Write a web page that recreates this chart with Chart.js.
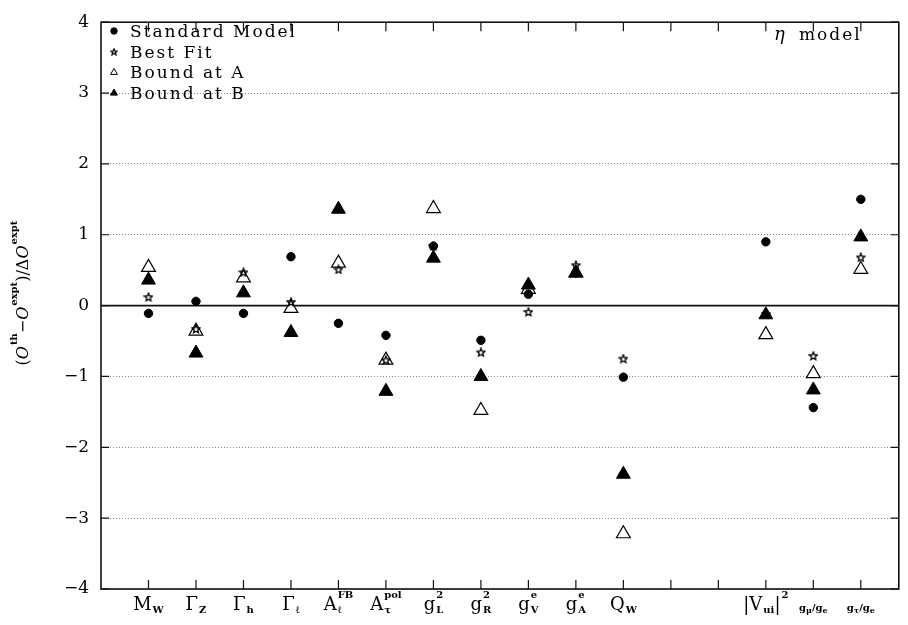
<!DOCTYPE html>
<html>
<head>
<meta charset="utf-8">
<script src="https://cdn.jsdelivr.net/npm/chart.js@4.4.0/dist/chart.umd.min.js"></script>
<style>
html, body { margin: 0; padding: 0; background: #fff; }
#wrap { width: 908px; height: 625px; position: relative; }
</style>
</head>
<body>
<div id="wrap"><canvas id="chartcanvas"></canvas></div>
<script>
// category positions on the x axis (gap between Q_W and |V_ui|^2)
var xPos = [1, 2, 3, 4, 5, 6, 7, 8, 9, 10, 11, 14, 15, 16];

// x labels as [kind, text] tokens: n normal, b subscript, p superscript, s small, sb small subscript
var xLabels = [
    [['n', 'M'], ['b', 'W']],
    [['n', 'Γ'], ['b', 'Z']],
    [['n', 'Γ'], ['b', 'h']],
    [['n', 'Γ'], ['b', 'ℓ']],
    [['n', 'A'], ['b', 'ℓ'], ['p', 'FB']],
    [['n', 'A'], ['b', 'τ'], ['p', 'pol']],
    [['n', 'g'], ['b', 'L'], ['p', '2']],
    [['n', 'g'], ['b', 'R'], ['p', '2']],
    [['n', 'g'], ['b', 'V'], ['p', 'e']],
    [['n', 'g'], ['b', 'A'], ['p', 'e']],
    [['n', 'Q'], ['b', 'W']],
    [['n', '|V'], ['b', 'ui'], ['n', '|'], ['p', '2']],
    [['s', 'g'], ['sb', 'μ'], ['s', '/g'], ['sb', 'e']],
    [['s', 'g'], ['sb', 'τ'], ['s', '/g'], ['sb', 'e']]
];

var standardModel = [-0.11, 0.06, -0.11, 0.69, -0.25, -0.42, 0.84, -0.49, 0.16, 0.46, -1.01, 0.90, -1.44, 1.50];
var bestFit       = [0.12, -0.33, 0.47, 0.05, 0.51, -0.77, 0.84, -0.66, -0.09, 0.57, -0.75, -0.12, -0.71, 0.68];
var boundA        = [0.54, -0.36, 0.39, -0.04, 0.60, -0.77, 1.37, -1.48, 0.23, 0.46, -3.22, -0.41, -0.96, 0.51];
var boundB        = [0.36, -0.67, 0.18, -0.38, 1.36, -1.21, 0.67, -1.00, 0.29, 0.46, -2.38, -0.13, -1.19, 0.97];

var yTicks = [-4, -3, -2, -1, 0, 1, 2, 3, 4];

var SERIF = '"DejaVu Serif", serif';

// small open five-pointed star used as point style
function makeStar(size) {
    let c = document.createElement('canvas');
    c.width = size; c.height = size;
    let g = c.getContext('2d');
    let cx = size / 2, cy = size / 2 + 0.3, ro = size / 2 - 0.8, ri = ro * 0.45;
    g.beginPath();
    for (let k = 0; k < 10; k++) {
        let r = k % 2 ? ri : ro;
        let a = -Math.PI / 2 + k * Math.PI / 5;
        let px = cx + r * Math.cos(a), py = cy + r * Math.sin(a);
        if (k == 0) g.moveTo(px, py); else g.lineTo(px, py);
    }
    g.closePath();
    g.strokeStyle = '#000';
    g.lineWidth = 1.3;
    g.stroke();
    return c;
}
var starImg = makeStar(10);

function pts(arr) {
    return xPos.map(function(x, i) { return {x: x, y: arr[i]}; });
}

function drawTokens(ctx, tokens, cx, base, sizes) {
    // measure, stacking a superscript directly after a subscript
    let items = [], w = 0, lastSubX = null;
    tokens.forEach(function(t) {
        let s = sizes[t[0]];
        ctx.font = s.font;
        let tw = ctx.measureText(t[1]).width;
        let x;
        if (t[0] == 'p' && lastSubX !== null) {
            x = lastSubX;
            w = Math.max(w, lastSubX + tw);
        } else {
            x = w + (s.gap || 0);
            w = x + tw;
        }
        lastSubX = (t[0] == 'b') ? x : null;
        items.push({t: t[1], x: x, s: s});
    });
    let x0 = cx - w / 2;
    items.forEach(function(it) {
        ctx.font = it.s.font;
        ctx.fillText(it.t, x0 + it.x, base + it.s.dy);
    });
}

var deco = {
    id: 'deco',
    beforeDatasetsDraw: function(chart) {
        const {ctx, chartArea: a, scales: {x, y}} = chart;
        ctx.save();
        ctx.strokeStyle = '#111';
        ctx.lineWidth = 1.6;
        let y0 = y.getPixelForValue(0);
        ctx.beginPath();
        ctx.moveTo(a.left, y0); ctx.lineTo(a.right, y0);
        ctx.stroke();
        ctx.strokeRect(a.left, a.top, a.right - a.left, a.bottom - a.top);
        ctx.lineWidth = 1.2;
        ctx.beginPath();
        for (let i = 1; i <= 16; i++) {
            let px = x.getPixelForValue(i);
            ctx.moveTo(px, a.bottom); ctx.lineTo(px, a.bottom - 9);
            ctx.moveTo(px, a.top); ctx.lineTo(px, a.top + 9);
        }
        yTicks.forEach(function(v) {
            let py = y.getPixelForValue(v);
            ctx.moveTo(a.left, py); ctx.lineTo(a.left + 8, py);
            ctx.moveTo(a.right - 8, py); ctx.lineTo(a.right, py);
        });
        ctx.stroke();
        ctx.restore();
    },
    afterDraw: function(chart) {
        const {ctx, chartArea: a, scales: {x, y}} = chart;
        ctx.save();
        ctx.fillStyle = '#000';
        ctx.textBaseline = 'alphabetic';
        ctx.textAlign = 'left';

        // x category labels
        let xs = {
            n: {font: '18px ' + SERIF, dy: 0},
            b: {font: 'bold 10px ' + SERIF, dy: 3, gap: 1},
            p: {font: 'bold 10px ' + SERIF, dy: -12, gap: 1},
            s: {font: 'bold 10px ' + SERIF, dy: 1},
            sb: {font: 'bold 8px ' + SERIF, dy: 3}
        };
        xLabels.forEach(function(lab, i) {
            drawTokens(ctx, lab, x.getPixelForValue(xPos[i]), a.bottom + 21, xs);
        });

        // y axis title, rotated
        ctx.save();
        ctx.translate(28, 293);
        ctx.rotate(-Math.PI / 2);
        let ys = {
            n: {font: '16px ' + SERIF, dy: 0},
            i: {font: 'italic 16px ' + SERIF, dy: 0},
            p: {font: 'bold 10px ' + SERIF, dy: -11, gap: 1}
        };
        drawTokens(ctx, [['n', '('], ['i', 'O'], ['p', 'th'], ['n', '\u2212'], ['i', 'O'], ['p', 'expt'],
                         ['n', ')'], ['n', '/'], ['n', 'Δ'], ['i', 'O'], ['p', 'expt']], 0, 0, ys);
        ctx.restore();

        // legend
        let rows = [
            ['Standard Model', {pointStyle: 'circle', radius: 3.2, borderWidth: 1, fill: '#000'}],
            ['Best Fit', {pointStyle: makeStar(8), radius: 4, borderWidth: 0, fill: '#000'}],
            ['Bound at A', {pointStyle: 'triangle', radius: 4, borderWidth: 1, fill: '#fff'}],
            ['Bound at B', {pointStyle: 'triangle', radius: 4, borderWidth: 1, fill: '#000'}]
        ];
        ctx.font = '17px ' + SERIF;
        ctx.letterSpacing = '2px';
        rows.forEach(function(r, k) {
            let ty = 37 + k * 20.7;
            ctx.fillStyle = '#000';
            ctx.fillText(r[0], 130, ty);
            ctx.fillStyle = r[1].fill;
            ctx.strokeStyle = '#000';
            ctx.lineWidth = 1;
            Chart.helpers.drawPoint(ctx, {pointStyle: r[1].pointStyle, radius: r[1].radius, borderWidth: r[1].borderWidth, rotation: 0}, 114, ty - 6);
        });

        // model name
        ctx.fillStyle = '#000';
        ctx.font = 'italic 18px ' + SERIF;
        ctx.letterSpacing = '0px';
        ctx.fillText('η', 774, 40);
        ctx.font = '17px ' + SERIF;
        ctx.letterSpacing = '2px';
        ctx.fillText('model', 799, 40);
        ctx.restore();
    }
};

new Chart(document.getElementById('chartcanvas'), {
    type: 'scatter',
    data: {
        datasets: [
            {
                label: 'Best Fit',
                data: pts(bestFit),
                pointStyle: starImg,
                order: 0,
            }, {
                label: 'Bound at B',
                data: pts(boundB),
                pointStyle: 'triangle',
                pointRadius: 8,
                backgroundColor: '#000',
                borderColor: '#000',
                borderWidth: 1,
                order: 1,
            }, {
                label: 'Standard Model',
                data: pts(standardModel),
                pointStyle: 'circle',
                pointRadius: 4.2,
                backgroundColor: '#000',
                borderColor: '#000',
                borderWidth: 1,
                order: 2,
            }, {
                label: 'Bound at A',
                data: pts(boundA),
                pointStyle: 'triangle',
                pointRadius: 8,
                backgroundColor: '#fff',
                borderColor: '#000',
                borderWidth: 1.2,
                order: 3,
            }
        ],
    },
    options: {
        responsive: true,
        maintainAspectRatio: false,
        animation: false,
        layout: { padding: { top: 10, right: 2, bottom: 36, left: 0 } },
        plugins: {
            legend: { display: false },
            tooltip: { enabled: false },
        },
        elements: { point: { hoverRadius: 0 } },
        scales: {
            x: {
                type: 'linear',
                min: 0,
                max: 16.8,
                display: false,
            },
            y: {
                type: 'linear',
                min: -4,
                max: 4,
                afterFit: function(scale) { scale.width = 101; },
                ticks: {
                    stepSize: 1,
                    padding: 12,
                    color: '#000',
                    font: { family: SERIF, size: 17 },
                    callback: function(v) { return v < 0 ? '\u2212' + (-v) : '' + v; },
                },
                grid: {
                    color: '#888',
                    lineWidth: 1,
                    drawTicks: false,
                },
                border: { display: false, dash: [1, 2] },
            },
        },
    },
    plugins: [deco],
});
</script>
</body>
</html>
